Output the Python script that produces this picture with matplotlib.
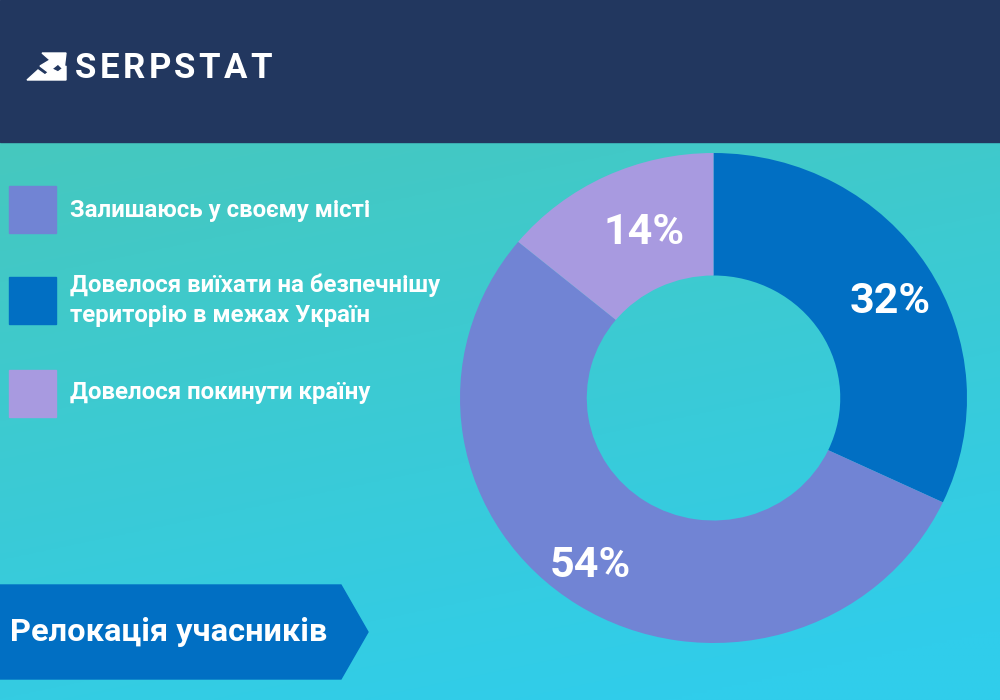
import matplotlib.pyplot as plt
import numpy as np
from matplotlib.patches import Polygon, Rectangle

# data
labels = ['Довелося виїхати на безпечнішу\nтериторію в межах Україн',
          'Залишаюсь у своєму місті',
          'Довелося покинути країну']
shares = [32, 54, 14]
colors = ['#016fc3', '#7184d4', '#a89ae0']
legend_order = [1, 0, 2]
title = 'Релокація учасників'
brand = 'SERPSTAT'

plt.rcParams['font.family'] = ['Roboto', 'DejaVu Sans']

fig = plt.figure(figsize=(10, 7), dpi=100)

# full-figure canvas in pixel coords
bg = fig.add_axes([0, 0, 1, 1])
bg.set_xlim(0, 1000)
bg.set_ylim(700, 0)
bg.axis('off')

# gradient background
top = np.array([70, 200, 190]) / 255
bot = np.array([48, 205, 235]) / 255
yy, xx = np.mgrid[0:1:200j, 0:1:200j]
t = np.clip(0.8 * yy + 0.3 * xx, 0, 1)[..., None]
grad = top * (1 - t) + bot * t
bg.imshow(grad, extent=[0, 1000, 700, 142], aspect='auto', zorder=0)

# header
bg.add_patch(Rectangle((0, 0), 1000, 142, color='#22375f', zorder=1))
# logo icon (rough)
bg.add_patch(Polygon([(42, 53), (66, 53), (64, 70), (58, 64), (48, 72), (40, 66), (50, 60)],
                     color='white', zorder=2))
bg.add_patch(Polygon([(27, 80), (38, 70), (45, 75), (52, 69), (58, 72), (66, 66), (66, 80)],
                     color='white', zorder=2))

# spaced-out brand letters: measure each, spread evenly over 75..272 px
renderer = fig.canvas.get_renderer()
letters = [bg.text(0, 68, ch, color='white', fontsize=25, fontweight='bold',
                   ha='left', va='center', zorder=3) for ch in brand]
widths = [tx.get_window_extent(renderer).width for tx in letters]
gap = (272 - 75 - sum(widths)) / (len(brand) - 1)
cur = 75
for tx, w in zip(letters, widths):
    tx.set_x(cur)
    cur += w + gap

# legend
box_y = [186, 277, 370]
text_y = [210, 300, 393]
for i, k in enumerate(legend_order):
    bg.add_patch(Rectangle((9, box_y[i]), 47, 47, color=colors[k], zorder=2))
    bg.text(70, text_y[i], labels[k], color='white', fontsize=17.3,
            fontweight='bold', ha='left', va='center', linespacing=1.4, zorder=3)

# title banner
bg.add_patch(Polygon([(0, 585), (341, 585), (368, 632), (341, 679), (0, 679)],
                     color='#016fc3', zorder=2))
bg.text(10, 632, title, color='white', fontsize=23.4, fontweight='bold',
        ha='left', va='center', zorder=3)

# donut
ax = fig.add_axes([0.46, 57 / 700, 507 / 1000, 490 / 700])
wedges, _ = ax.pie(shares, colors=colors, startangle=90, counterclock=False,
                   radius=1, wedgeprops=dict(width=0.5, linewidth=0))
ax.set_aspect('auto')
ax.set_xlim(-1, 1)
ax.set_ylim(-1, 1)
ax.axis('off')
label_r = [0.8, 0.84, 0.73]
for w, s, r in zip(wedges, shares, label_r):
    ang = np.deg2rad((w.theta1 + w.theta2) / 2 - 3)
    ax.text(r * np.cos(ang), r * np.sin(ang), f'{s}%', color='white',
            fontsize=31, fontweight='bold', ha='center', va='center')

fig.savefig('out.png', dpi=100)
